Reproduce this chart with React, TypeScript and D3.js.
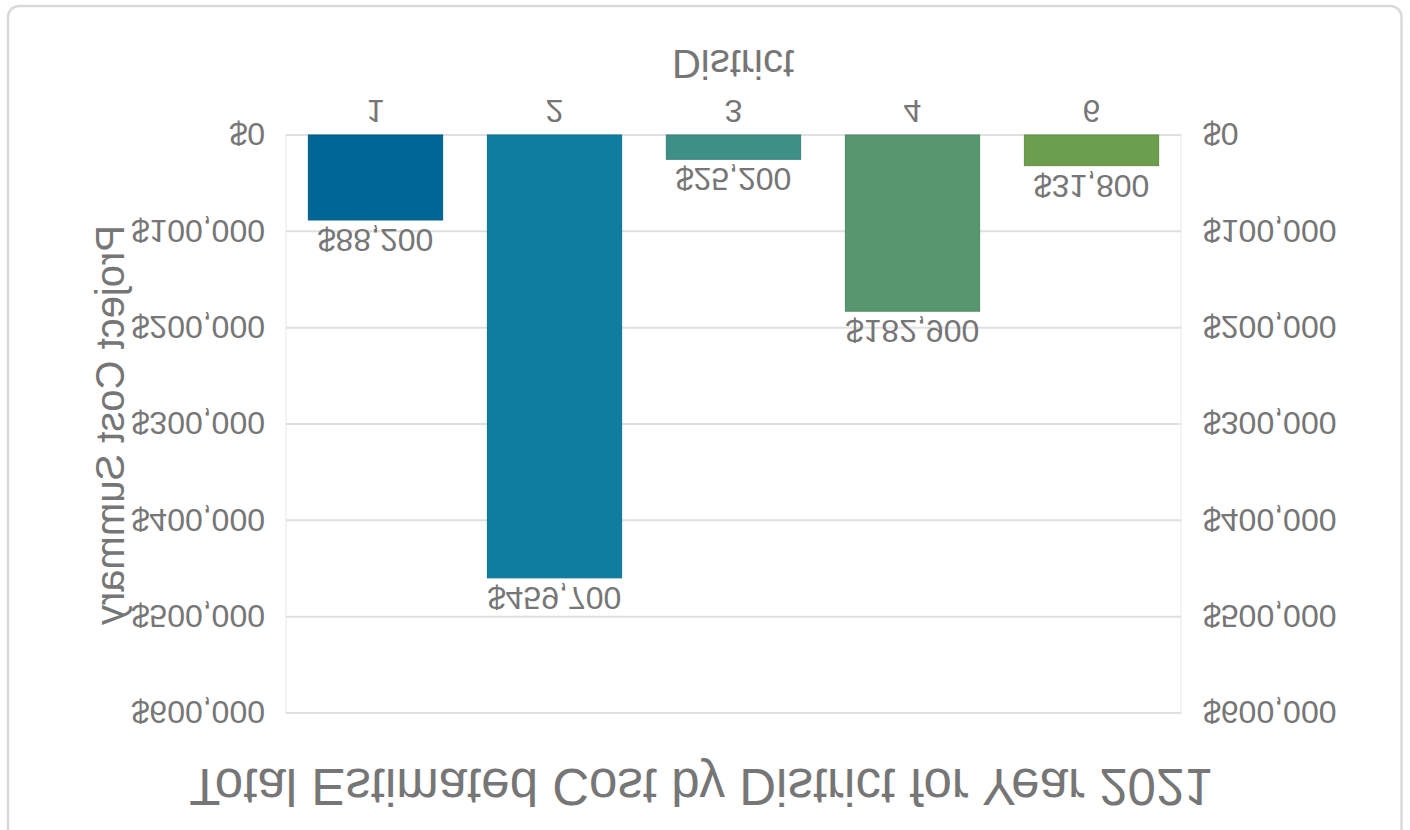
import React from "react";
import * as d3 from "d3";

const districts: string[] = ["1", "2", "3", "4", "6"];
const costs: number[] = [88200, 459700, 25200, 182900, 31800];
const barColors: string[] = ["#006597", "#0d7ea0", "#3e8f86", "#579770", "#6b9e4d"];
const yTicks: number[] = [0, 100000, 200000, 300000, 400000, 500000, 600000];
const chartTitle = "Total Estimated Cost by District for Year 2021";
const xTitle = "District";
const yTitle = "Project Cost Summary";

const W = 1410;
const H = 830;
const FONT = "'Liberation Sans', Arial, Helvetica, sans-serif";
const TEXT = "#767676";

export default function App() {
  const x = d3
    .scaleBand<string>()
    .domain(districts)
    .range([286, 1181])
    .paddingInner(0.25)
    .paddingOuter(0.125);
  const y = d3.scaleLinear().domain([0, 600000]).range([695, 117]);
  const fmt = (v: number) => "$" + d3.format(",")(v);

  return (
    <svg
      width={W}
      height={H}
      style={{ position: "absolute", left: 0, top: 0, background: "#fff" }}
      fontFamily={FONT}
    >
      <g transform={`translate(0,${H}) scale(1,-1)`}>
        <rect x={8} y={-20} width={1393.5} height={844} rx={11} fill="#fff" stroke="#d9d9d9" strokeWidth={2.5} />
        <text x={701} y={61} textAnchor="middle" fontSize={51} fill={TEXT}>
          {chartTitle}
        </text>
        {/* plot area border */}
        <rect x={x.range()[0]} y={y(600000)} width={x.range()[1] - x.range()[0]} height={y(0) - y(600000)} fill="none" stroke="#f0f0f0" strokeWidth={1.5} />
        {yTicks.map((t) => (
          <g key={t}>
            <line x1={x.range()[0]} x2={x.range()[1]} y1={y(t)} y2={y(t)} stroke="#e0e0e0" strokeWidth={2} />
            <text x={265} y={y(t)} dy="0.36em" textAnchor="end" fontSize={32} fill={TEXT}>
              {fmt(t)}
            </text>
            <text x={1203} y={y(t)} dy="0.36em" textAnchor="start" fontSize={32} fill={TEXT}>
              {fmt(t)}
            </text>
          </g>
        ))}
        {districts.map((d, i) => (
          <g key={d}>
            <rect
              x={x(d)}
              y={y(costs[i])}
              width={x.bandwidth()}
              height={y(0) - y(costs[i])}
              fill={barColors[i]}
              stroke={d3.color(barColors[i])!.darker(0.3).toString()}
              strokeWidth={1}
            />
            <text x={(x(d) as number) + x.bandwidth() / 2} y={y(costs[i]) - 9} textAnchor="middle" fontSize={32} fill={TEXT}>
              {fmt(costs[i])}
            </text>
            <text x={(x(d) as number) + x.bandwidth() / 2} y={730} textAnchor="middle" fontSize={32} fill={TEXT}>
              {d}
            </text>
          </g>
        ))}
        <text x={733} y={780} textAnchor="middle" fontSize={40} fill={TEXT}>
          {xTitle}
        </text>
        <text transform={`translate(124,405) rotate(-90)`} textAnchor="middle" fontSize={40} fill={TEXT}>
          {yTitle}
        </text>
      </g>
    </svg>
  );
}
